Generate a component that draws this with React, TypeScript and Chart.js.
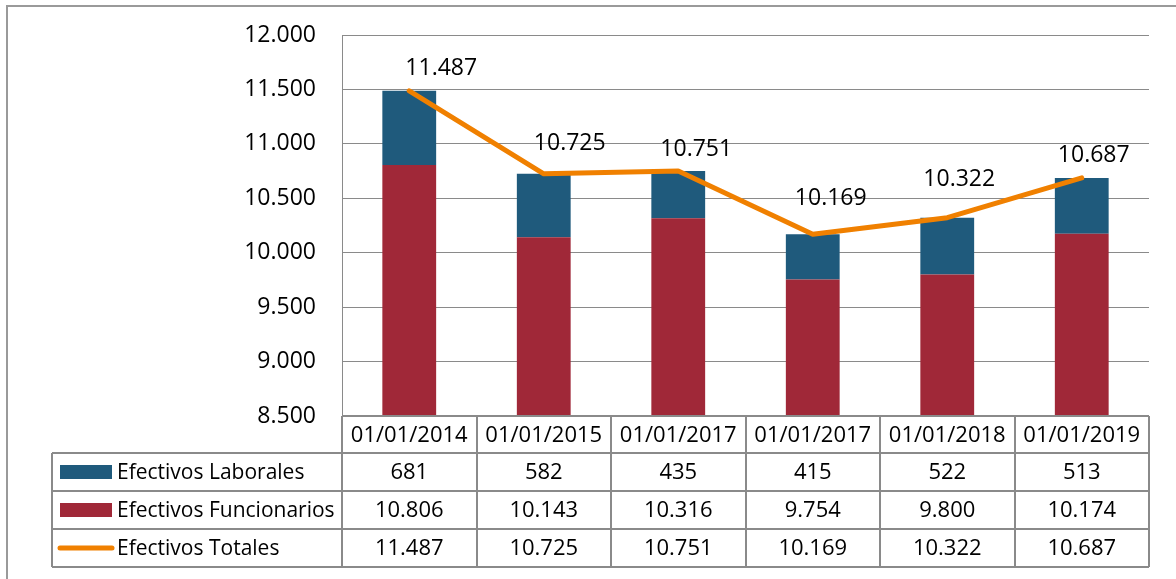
import React, { useEffect, useRef } from 'react';
import { Chart, registerables } from 'chart.js';

Chart.register(...registerables);

const categories = ['01/01/2014', '01/01/2015', '01/01/2017', '01/01/2017', '01/01/2018', '01/01/2019'];
const laborales = [681, 582, 435, 415, 522, 513];
const funcionarios = [10806, 10143, 10316, 9754, 9800, 10174];
const totales = [11487, 10725, 10751, 10169, 10322, 10687];
const seriesNames = ['Efectivos Laborales', 'Efectivos Funcionarios', 'Efectivos Totales'];
const yMin = 8500;
const yMax = 12000;
const yStep = 500;

// label placement (style): offset from each line point, in px
const labelOffsets = [[32, -22], [26, -30], [18, -22], [18, -36], [12, -38], [12, -22]];

const BLUE = '#1F5A7C';
const RED = '#A02838';
const ORANGE = '#F08000';
const GRID = '#8a8a8a';
const FONT = "'Open Sans', 'Noto Sans', sans-serif";

const fmt = (n: number) => String(Math.round(n)).replace(/\B(?=(\d{3})+(?!\d))/g, '.');

const tablePlugin = {
  id: 'tableAndLabels',
  beforeDraw(chart: any) {
    const ctx = chart.ctx;
    ctx.save();
    ctx.fillStyle = '#fff';
    ctx.fillRect(0, 0, chart.width, chart.height);
    ctx.restore();
  },
  afterDraw(chart: any) {
    const ctx = chart.ctx;
    const area = chart.chartArea;
    const xs = chart.scales.x;
    const n = categories.length;
    const colW = (area.right - area.left) / n;
    const top = Math.round(area.bottom);
    const rowY = [top, top + 37, top + 75, top + 113, top + 151];
    const legendLeft = 52;

    ctx.save();
    // outer frame (top + left)
    ctx.strokeStyle = '#9a9a9a';
    ctx.lineWidth = 2;
    ctx.beginPath();
    ctx.moveTo(7, 579);
    ctx.lineTo(7, 6);
    ctx.lineTo(1176, 6);
    ctx.stroke();

    // data labels
    const lineMeta = chart.getDatasetMeta(2);
    ctx.fillStyle = '#000';
    ctx.font = `23px ${FONT}`;
    ctx.textAlign = 'center';
    ctx.textBaseline = 'middle';
    lineMeta.data.forEach((pt: any, i: number) => {
      const [dx, dy] = labelOffsets[i];
      ctx.fillText(fmt(totales[i]), pt.x + dx, pt.y + dy);
    });

    // table grid
    ctx.strokeStyle = GRID;
    ctx.lineWidth = 2;
    ctx.beginPath();
    ctx.moveTo(area.left, rowY[0]);
    ctx.lineTo(area.right, rowY[0]);
    for (let r = 1; r < rowY.length; r++) {
      ctx.moveTo(legendLeft, rowY[r]);
      ctx.lineTo(area.right, rowY[r]);
    }
    ctx.moveTo(legendLeft, rowY[1]);
    ctx.lineTo(legendLeft, rowY[4]);
    for (let c = 0; c <= n; c++) {
      const x = Math.round(area.left + c * colW);
      ctx.moveTo(x, rowY[0]);
      ctx.lineTo(x, rowY[4]);
    }
    ctx.stroke();

    // header + values
    ctx.fillStyle = '#000';
    ctx.font = `22px ${FONT}`;
    ctx.textAlign = 'center';
    ctx.textBaseline = 'middle';
    const rowsData = [laborales, funcionarios, totales];
    for (let i = 0; i < n; i++) {
      const cx = xs.getPixelForValue(i);
      ctx.fillText(categories[i], cx, (rowY[0] + rowY[1]) / 2 + 1);
      rowsData.forEach((arr, r) => {
        ctx.fillText(fmt(arr[i]), cx, (rowY[r + 1] + rowY[r + 2]) / 2 + 1);
      });
    }

    // legend column
    ctx.textAlign = 'left';
    ctx.font = `21px ${FONT}`;
    const keys = [BLUE, RED, ORANGE];
    seriesNames.forEach((name, r) => {
      const cy = (rowY[r + 1] + rowY[r + 2]) / 2;
      if (r < 2) {
        ctx.fillStyle = keys[r];
        ctx.fillRect(60, cy - 7, 52, 14);
      } else {
        ctx.strokeStyle = ORANGE;
        ctx.lineWidth = 5;
        ctx.lineCap = 'round';
        ctx.beginPath();
        ctx.moveTo(60, cy);
        ctx.lineTo(112, cy);
        ctx.stroke();
      }
      ctx.fillStyle = '#000';
      ctx.fillText(name, 117, cy + 1);
    });
    ctx.restore();
  },
};

export default function App() {
  const ref = useRef<HTMLCanvasElement | null>(null);
  useEffect(() => {
    if (!ref.current) return;
    const chart = new Chart(ref.current, {
      type: 'bar',
      data: {
        labels: categories,
        datasets: [
          {
            type: 'bar',
            label: seriesNames[1],
            data: funcionarios,
            backgroundColor: RED,
            stack: 'bars',
            order: 1,
            categoryPercentage: 1,
            barPercentage: 0.4,
          },
          {
            type: 'bar',
            label: seriesNames[0],
            data: laborales,
            backgroundColor: BLUE,
            stack: 'bars',
            order: 2,
            categoryPercentage: 1,
            barPercentage: 0.4,
          },
          {
            type: 'line',
            label: seriesNames[2],
            data: totales,
            borderColor: ORANGE,
            backgroundColor: ORANGE,
            borderWidth: 5,
            pointRadius: 0,
            tension: 0,
            fill: false,
            stack: 'line',
            order: 0,
            borderCapStyle: 'round',
            borderJoinStyle: 'round',
          } as any,
        ],
      },
      options: {
        animation: false,
        responsive: false,
        devicePixelRatio: 1,
        layout: { padding: { left: 0, top: 35, right: 27, bottom: 163 } },
        plugins: { legend: { display: false }, tooltip: { enabled: false } },
        scales: {
          x: { display: false, stacked: true, offset: true },
          y: {
            stacked: true,
            min: yMin,
            max: yMax,
            ticks: {
              stepSize: yStep,
              padding: 26,
              color: '#000',
              font: { family: FONT, size: 23 },
              callback: (v: any) => fmt(Number(v)),
            },
            grid: { color: GRID, lineWidth: 1, drawTicks: false },
            border: { color: GRID, width: 1 },
            afterFit: (scale: any) => {
              scale.width = 342;
              scale.paddingTop = 0;
              scale.paddingBottom = 0;
            },
          },
        },
      },
      plugins: [tablePlugin],
    });
    return () => chart.destroy();
  }, []);
  return (
    <div style={{ position: 'absolute', left: 0, top: 0, width: 1176, height: 579 }}>
      <canvas ref={ref} width={1176} height={579} />
    </div>
  );
}
